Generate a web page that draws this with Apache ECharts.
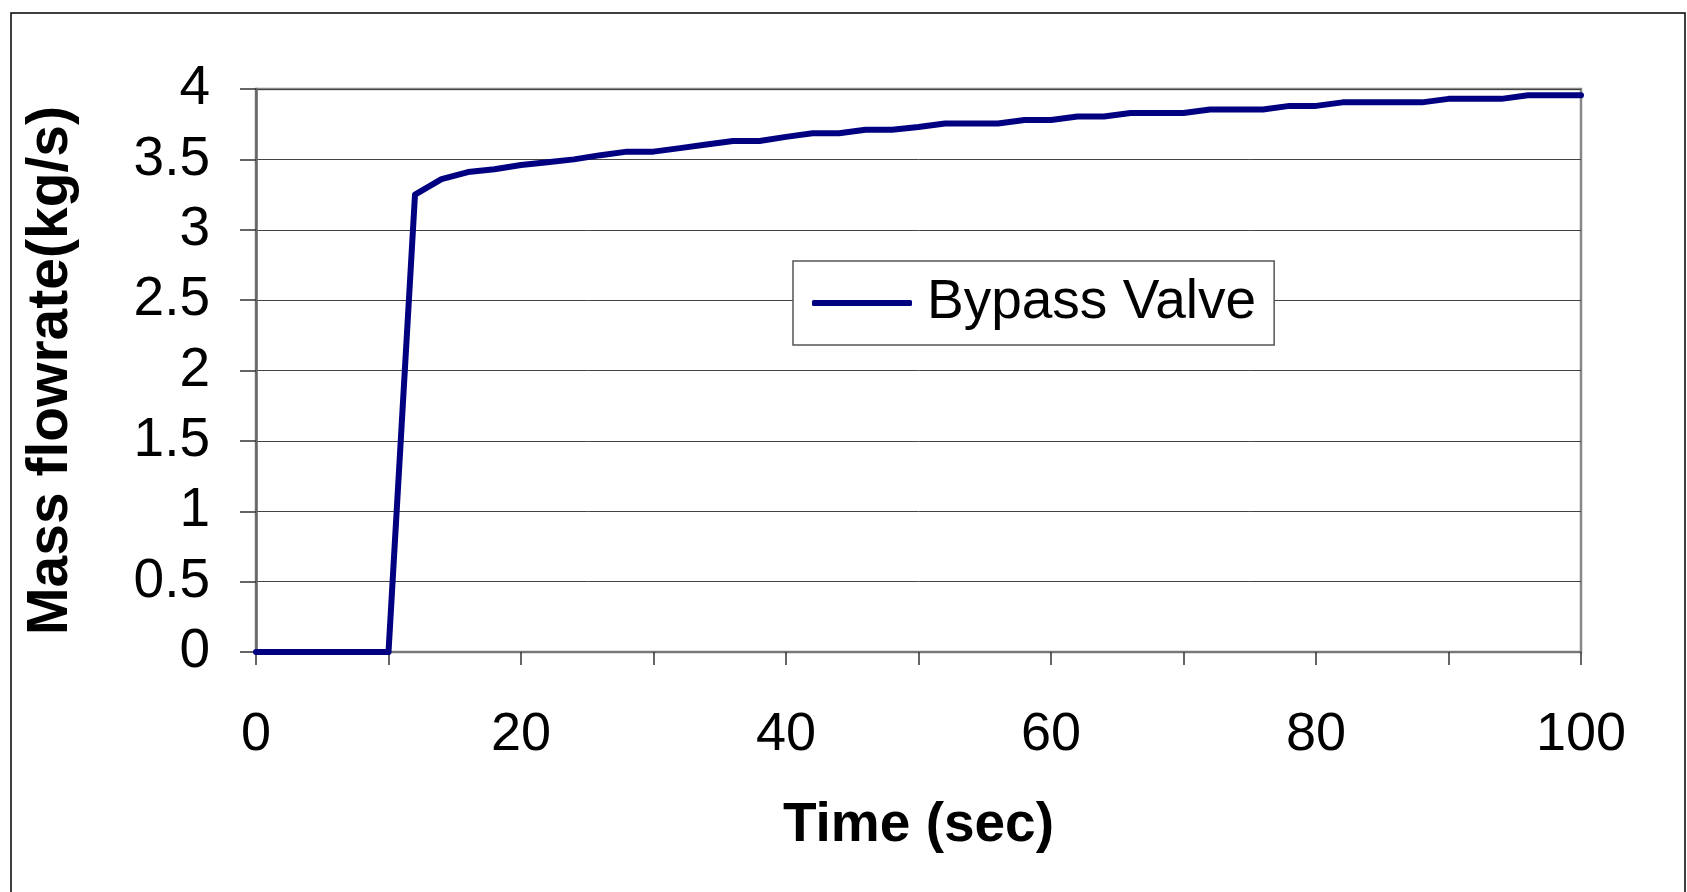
<!DOCTYPE html>
<html lang="en">
<head>
    <meta charset="UTF-8">
    <title>Bypass Valve mass flowrate</title>
    <script src="https://cdn.jsdelivr.net/npm/echarts@6/dist/echarts.min.js"></script>
    <style>
        html, body { margin: 0; padding: 0; background: #fff; }
        #chart { width: 1687px; height: 892px; }
    </style>
</head>
<body>
    <div id="chart"></div>
    <script>
        // time (sec), one sample every 2 s
        const times = [0, 2, 4, 6, 8, 10, 12, 14, 16, 18, 20, 22, 24, 26, 28, 30, 32, 34, 36, 38,
            40, 42, 44, 46, 48, 50, 52, 54, 56, 58, 60, 62, 64, 66, 68, 70, 72, 74, 76, 78,
            80, 82, 84, 86, 88, 90, 92, 94, 96, 98, 100];
        // mass flowrate (kg/s)
        const flow = [0, 0, 0, 0, 0, 0, 3.25, 3.36, 3.41, 3.43, 3.46, 3.48, 3.5, 3.53, 3.555, 3.555, 3.58, 3.605, 3.63, 3.63,
            3.66, 3.685, 3.685, 3.71, 3.71, 3.73, 3.755, 3.755, 3.755, 3.78, 3.78, 3.805, 3.805, 3.83, 3.83, 3.83, 3.855, 3.855, 3.855, 3.88,
            3.88, 3.905, 3.905, 3.905, 3.905, 3.93, 3.93, 3.93, 3.955, 3.955, 3.955];
        const seriesName = 'Bypass Valve';
        const xLabels = [0, 20, 40, 60, 80, 100];

        const chart = echarts.init(document.getElementById('chart'));
        const font = '"Liberation Sans", Arial, sans-serif';

        chart.setOption({
            animation: false,
            backgroundColor: '#fff',
            textStyle: { fontFamily: font },
            graphic: [{
                type: 'rect',
                shape: { x: 11, y: 13, width: 1674, height: 900 },
                style: { fill: 'none', stroke: '#000', lineWidth: 1.5 },
                silent: true
            }],
            grid: {
                left: 256, top: 89, right: 106, bottom: 240,
                show: true, borderColor: '#888', borderWidth: 2.5, backgroundColor: '#fff'
            },
            legend: {
                data: [seriesName],
                left: 793, top: 261,
                orient: 'horizontal',
                icon: 'roundRect',
                itemWidth: 100, itemHeight: 6,
                padding: [10, 18, 10, 19],
                backgroundColor: '#fff',
                borderColor: '#555', borderWidth: 1.5, borderRadius: 0,
                textStyle: { fontFamily: font, fontSize: 55, color: '#000', lineHeight: 64, padding: [0, 0, 0, 10] }
            },
            xAxis: {
                type: 'value',
                min: 0, max: 100, interval: 10,
                name: 'Time (sec)',
                nameLocation: 'middle',
                nameGap: 146,
                nameTextStyle: { fontFamily: font, fontSize: 55, fontWeight: 'bold', color: '#000' },
                axisLine: { show: true, lineStyle: { color: '#777', width: 2 } },
                axisTick: { show: true, inside: false, length: 13, lineStyle: { color: '#333', width: 1.5 } },
                axisLabel: {
                    fontFamily: font, fontSize: 54, color: '#000', margin: 56,
                    formatter: v => xLabels.includes(v) ? String(v) : ''
                },
                splitLine: { show: false }
            },
            yAxis: {
                type: 'value',
                min: 0, max: 4, interval: 0.5,
                name: 'Mass flowrate(kg/s)',
                nameLocation: 'middle',
                nameGap: 176,
                nameTextStyle: { fontFamily: font, fontSize: 57, fontWeight: 'bold', color: '#000' },
                axisLine: { show: true, lineStyle: { color: '#666', width: 2.5 } },
                axisTick: { show: true, inside: false, length: 16, lineStyle: { color: '#333', width: 1.5 } },
                axisLabel: { fontFamily: font, fontSize: 55, color: '#000', margin: 46 },
                splitLine: { show: true, lineStyle: { color: '#444', width: 1 } }
            },
            series: [{
                name: seriesName,
                type: 'line',
                data: times.map((t, i) => [t, flow[i]]),
                showSymbol: false,
                symbol: 'none',
                color: '#000080',
                lineStyle: { color: '#000080', width: 6, cap: 'round', join: 'round' }
            }]
        });
    </script>
</body>
</html>
